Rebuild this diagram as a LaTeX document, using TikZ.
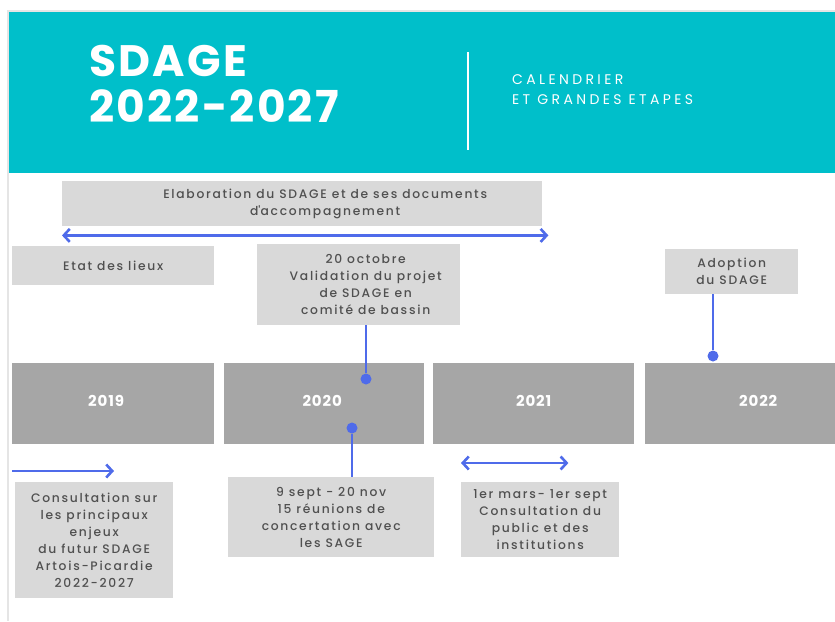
\documentclass[tikz,border=0pt]{standalone}
\usepackage{fontspec}
\setmainfont{Poppins}[UprightFont=* Medium, BoldFont=* Bold]
\newfontfamily\subfont{Poppins}
\usetikzlibrary{arrows.meta}
\definecolor{teal}{HTML}{00BFCA}
\definecolor{boxgray}{HTML}{D9D9D9}
\definecolor{yeargray}{HTML}{A6A6A6}
\definecolor{linkblue}{HTML}{4F6BEA}
\definecolor{textgray}{HTML}{505050}
\newcommand{\boxfont}[0]{\fontsize{12.3}{17}\selectfont\addfontfeature{LetterSpace=14}}
\newcommand{\yearlabel}[1]{\raisebox{5pt}{#1}}

\begin{document}
\begin{tikzpicture}[x=1pt, y=-1pt]
  \tikzset{
    infobox/.style={fill=boxgray, text=textgray, font=\boxfont, align=center,
      anchor=north west, inner sep=0pt},
    yearbox/.style={fill=yeargray, text=white, font=\fontsize{15}{17}\selectfont\bfseries\addfontfeature{LetterSpace=6},
      anchor=north west, inner sep=0pt, minimum height=81},
    dot/.style={circle, fill=linkblue, inner sep=0pt, minimum size=11},
    link/.style={draw=linkblue, line width=2pt},
    span/.style={link, line width=2.6pt, {Straight Barb[length=6pt, width=13pt]}-{Straight Barb[length=6pt, width=13pt]}},
  }
  \useasboundingbox (0,0) rectangle (835,621);
  \fill[white] (0,0) rectangle (835,621);
  % page frame
  \draw[black!10, line width=2.5pt] (8,621) -- (8,11) -- (835,11);
  % header
  \fill[teal] (9,12) rectangle (835,173);
  \node[text=white, font=\fontsize{44}{45.5}\selectfont\bfseries\addfontfeature{LetterSpace=5}, align=left, anchor=north west,
    inner sep=0pt] (title) at (89,45) {SDAGE\\2022-2027};
  \draw[white, line width=1.6pt] (468,52) -- (468,150);
  \node[text=white, font=\fontsize{14}{20}\selectfont\subfont\addfontfeature{LetterSpace=24}, align=left, anchor=west,
    inner sep=0pt] (subtitle) at (512,90) {CALENDRIER\\ET GRANDES ETAPES};

  % year bar
  \node[yearbox, minimum width=202] (y2019) at (12,363) {\yearlabel{\hspace{-14pt}2019}};
  \node[yearbox, minimum width=200] (y2020) at (224,363) {\yearlabel{\hspace{-4pt}2020}};
  \node[yearbox, minimum width=201] (y2021) at (433,363) {\yearlabel{2021}};
  \node[yearbox, minimum width=190] (y2022) at (645,363) {\yearlabel{\hspace{36pt}2022}};

  % boxes above
  \node[infobox, minimum width=480, minimum height=45] (elab) at (62,181)
    {\hspace{46pt}Elaboration du SDAGE et de ses documents\\\hspace{46pt}d\textquotesingle accompagnement};
  \node[infobox, minimum width=202, minimum height=39] (etat) at (12,246)
    {Etat des lieux};
  \node[infobox, minimum width=203, minimum height=81] (oct) at (257,244)
    {\hspace{14pt}20 octobre\\\hspace{14pt}Validation du projet\\\hspace{14pt}de SDAGE en\\\hspace{14pt}comité de bassin};
  \node[infobox, minimum width=133, minimum height=45] (adopt) at (665,249)
    {Adoption\\du SDAGE};

  % boxes below
  \node[infobox, minimum width=206, minimum height=80] (sept) at (228,477)
    {9 sept - 20 nov\\15 réunions de\\concertation avec\\les SAGE};
  \node[infobox, minimum width=158, minimum height=116] (consult) at (15,482)
    {Consultation sur\\les principaux\\enjeux\\du futur SDAGE\\Artois-Picardie\\2022-2027};
  \node[infobox, minimum width=158, minimum height=75] (mars) at (461,482)
    {1er mars- 1er sept\\Consultation du\\public et des\\institutions};

  % dots and links
  \node[dot] (d-oct) at (366,379) {};
  \node[dot] (d-sept) at (352,428) {};
  \node[dot] (d-adopt) at (713,356) {};
  \draw[link] (d-oct) -- (d-oct |- oct.south);
  \draw[link] (d-sept) -- (d-sept |- sept.north);
  \draw[link] (d-adopt) -- (d-adopt |- adopt.south);

  % spans
  \draw[span] ([yshift=-9pt]elab.south west) -- ([xshift=6pt, yshift=-9pt]elab.south east);
  \coordinate (c-left) at (12,471);
  \draw[link, line width=2.6pt, -{Straight Barb[length=6pt, width=13pt]}] (c-left) -- (c-left -| 114,0);
  \draw[span] ([yshift=19pt]mars.north west) -- ([xshift=-51pt, yshift=19pt]mars.north east);
\end{tikzpicture}
\end{document}
